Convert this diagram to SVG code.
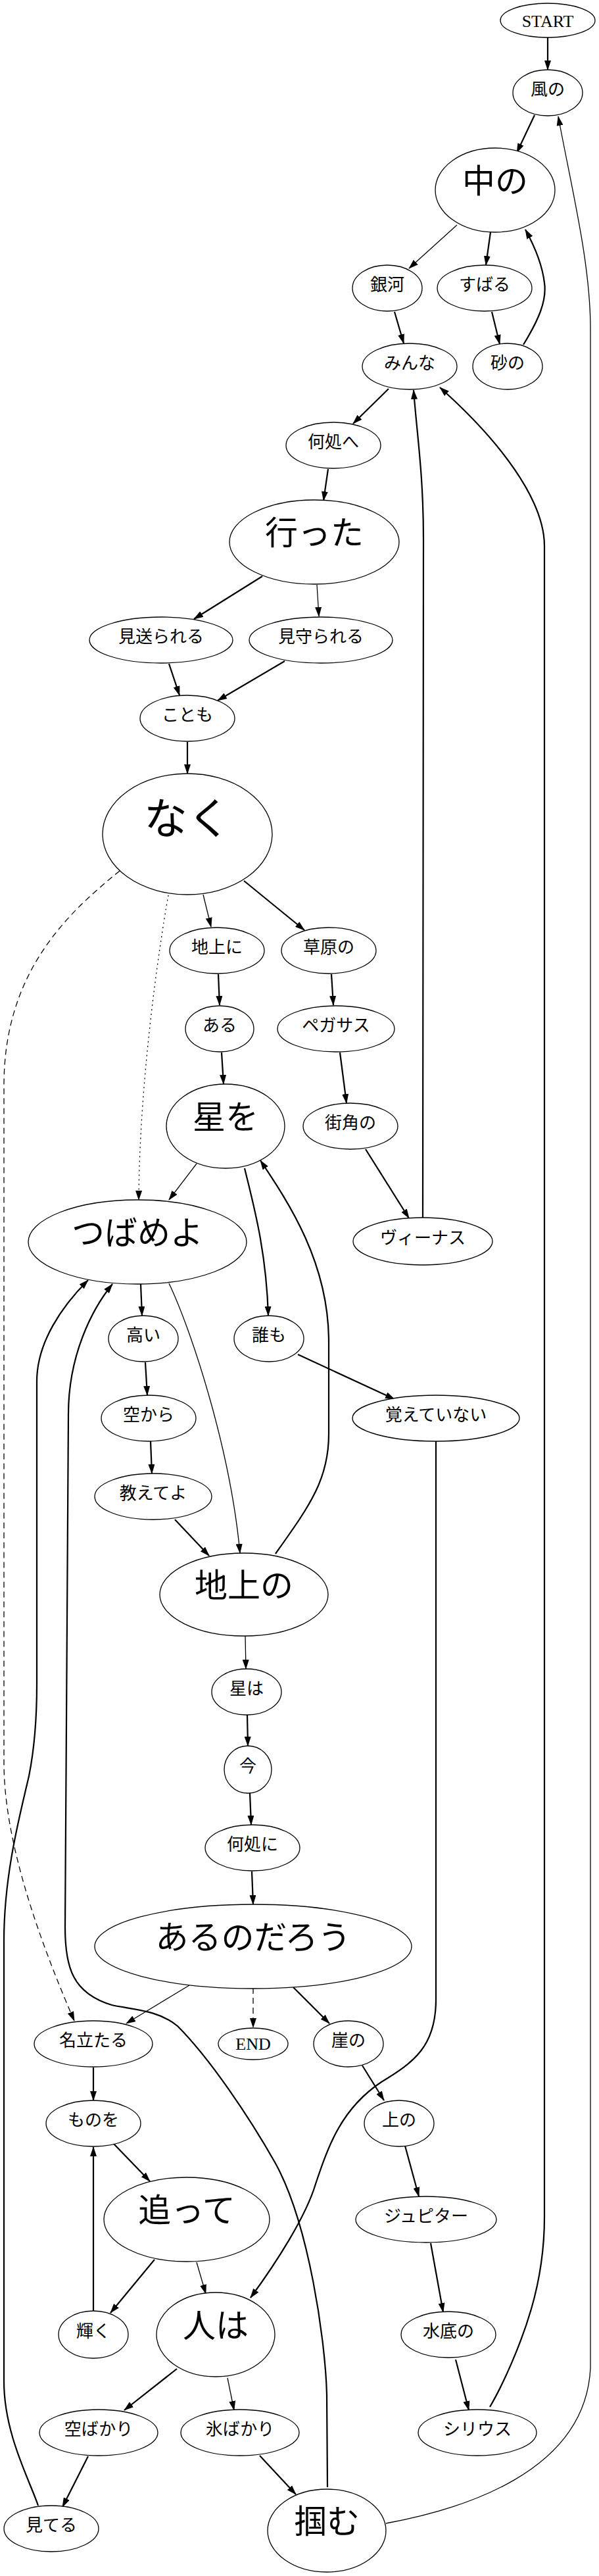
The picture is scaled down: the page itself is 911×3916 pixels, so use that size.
<svg xmlns="http://www.w3.org/2000/svg" width="911" height="3916" viewBox="0 0 911 3916">
<style>
.n ellipse{fill:#fff;stroke:#000;stroke-width:1.3}
text{font-family:"Liberation Serif","Noto Sans CJK JP",serif;text-anchor:middle;fill:#000}
.s{font-size:26px}
.b{font-size:50px}
.h{font-size:66px}
#edges path{fill:none;stroke:#000;marker-end:url(#a)}
#edges .t{stroke-width:2.2}
#edges .w{stroke-width:1.3}
#edges .d{stroke-width:1.3;stroke-dasharray:9 6}
#edges .o{stroke-width:1.3;stroke-dasharray:2 5}
</style>
<defs>
<marker id="a" viewBox="0 0 15 10" markerWidth="15" markerHeight="10" refX="14" refY="5" orient="auto" markerUnits="userSpaceOnUse">
<path d="M0,0 L15,5 L0,10 z" fill="#000"/>
</marker>
</defs>
<rect width="911" height="3916" fill="#fff"/>
<g id="edges">
<path class="t" d="M833,57 L833,106"/>
<path class="t" d="M813,175 L786,232"/>
<path class="t" d="M746,353 L739,403"/>
<path class="t" d="M748,474 L760,523"/>
<path class="t" d="M796,524 C818,488 832,458 828,430 C825,405 815,378 799,349"/>
<path class="t" d="M600,474 L614,522"/>
<path class="t" d="M591,591 L537,644"/>
<path class="t" d="M643,1851 L644,820 C644,720 634,660 629,593"/>
<path class="t" d="M745,3659 C765,3625 792,3565 808,3510 C824,3455 828,3410 828,3370 L828,830 C828,760 760,670 669,589"/>
<path class="t" d="M499,713 L492,761"/>
<path class="t" d="M399,876 L295,941"/>
<path class="t" d="M257,1009 L273,1057"/>
<path class="t" d="M433,1005 L331,1065"/>
<path class="t" d="M285,1128 L285,1176"/>
<path class="t" d="M371,1339 L463,1414"/>
<path class="t" d="M332,1481 L334,1528"/>
<path class="t" d="M504,1481 L507,1528"/>
<path class="t" d="M337,1600 L340,1648"/>
<path class="t" d="M517,1600 L527,1677"/>
<path class="t" d="M556,1747 L622,1852"/>
<path class="t" d="M372,1776 C385,1830 405,1900 408,2000"/>
<path class="t" d="M419,2362 C470,2290 500,2250 500,2180 L500,2040 C500,1920 440,1830 396,1764"/>
<path class="t" d="M214,1952 L216,2000"/>
<path class="t" d="M221,2071 L224,2121"/>
<path class="t" d="M229,2191 L231,2240"/>
<path class="t" d="M266,2310 L318,2365"/>
<path class="t" d="M453,2059 L600,2127"/>
<path class="t" d="M663,2191 L663,3040 C663,3110 630,3135 580,3165 C520,3205 500,3260 480,3320 C465,3370 420,3440 381,3493"/>
<path class="t" d="M376,2607 L377,2654"/>
<path class="t" d="M380,2726 L382,2774"/>
<path class="t" d="M383,2845 L385,2895"/>
<path class="t" d="M446,3021 L501,3076"/>
<path class="t" d="M551,3140 L584,3193"/>
<path class="t" d="M142,3143 L142,3193"/>
<path class="t" d="M173,3259 L228,3316"/>
<path class="t" d="M616,3262 L637,3339"/>
<path class="t" d="M235,3435 L168,3516"/>
<path class="t" d="M142,3513 L142,3264"/>
<path class="t" d="M655,3410 L674,3515"/>
<path class="t" d="M693,3587 L713,3664"/>
<path class="t" d="M269,3601 L189,3664"/>
<path class="t" d="M134,3734 L95,3811"/>
<path class="t" d="M395,3733 L450,3792"/>
<path class="t" d="M58,3809 C45,3770 6,3700 6,3620 L6,2950 C6,2850 30,2760 44,2700 C52,2660 56,2620 56,2560 L56,2100 C56,2040 95,1985 134,1946"/>
<path class="t" d="M498,3781 L497,3640 C495,3560 470,3380 418,3287 C380,3220 320,3130 270,3080 C240,3055 200,3055 170,3048 C110,3030 99,2990 99,2930 L104,2150 C104,2060 140,1990 171,1952"/>
<path class="w" d="M695,342 L622,408"/>
<path class="w" d="M482,889 L485,937"/>
<path class="w" d="M309,1360 L321,1409"/>
<path class="w" d="M299,1769 L257,1824"/>
<path class="w" d="M257,1951 C290,2020 350,2200 365,2361"/>
<path class="w" d="M373,2487 L374,2537"/>
<path class="w" d="M288,3018 L192,3076"/>
<path class="w" d="M299,3439 L313,3487"/>
<path class="w" d="M346,3615 L356,3664"/>
<path class="w" d="M587,3836 C700,3815 890,3760 898,3600 L898,500 C898,400 870,290 849,177"/>
<path class="d" d="M182,1324 C100,1390 6,1480 6,1650 L6,2680 C6,2800 60,2950 113,3072"/>
<path class="d" d="M385,3022 L385,3082"/>
<path class="o" d="M256,1361 C240,1450 212,1650 211,1824"/>
</g>
<g id="n_start" class="n"><ellipse cx="833" cy="31" rx="72" ry="26"/><text class="s" x="833" y="41">START</text></g>
<g id="n_kaze" class="n"><ellipse cx="833" cy="141" rx="53" ry="35"/><text class="s" x="833" y="145">風の</text></g>
<g id="n_naka" class="n"><ellipse cx="753" cy="289" rx="91" ry="64"/><text class="b" x="753" y="293">中の</text></g>
<g id="n_ginga" class="n"><ellipse cx="589" cy="438" rx="53" ry="35"/><text class="s" x="589" y="442">銀河</text></g>
<g id="n_subaru" class="n"><ellipse cx="737" cy="438" rx="72" ry="35"/><text class="s" x="737" y="442">すばる</text></g>
<g id="n_minna" class="n"><ellipse cx="623" cy="557" rx="72" ry="35"/><text class="s" x="623" y="561">みんな</text></g>
<g id="n_suna" class="n"><ellipse cx="772" cy="557" rx="53" ry="35"/><text class="s" x="772" y="561">砂の</text></g>
<g id="n_dokohe" class="n"><ellipse cx="507" cy="677" rx="72" ry="35"/><text class="s" x="507" y="681">何処へ</text></g>
<g id="n_itta" class="n"><ellipse cx="478" cy="824" rx="129" ry="64"/><text class="b" x="478" y="828">行った</text></g>
<g id="n_miokura" class="n"><ellipse cx="245" cy="973" rx="109" ry="35"/><text class="s" x="245" y="977">見送られる</text></g>
<g id="n_mimamo" class="n"><ellipse cx="488" cy="973" rx="109" ry="35"/><text class="s" x="488" y="977">見守られる</text></g>
<g id="n_kotomo" class="n"><ellipse cx="285" cy="1092" rx="72" ry="35"/><text class="s" x="285" y="1096">ことも</text></g>
<g id="n_naku" class="n"><ellipse cx="285" cy="1268" rx="129" ry="92"/><text class="h" x="285" y="1268">なく</text></g>
<g id="n_chijoni" class="n"><ellipse cx="330" cy="1445" rx="72" ry="35"/><text class="s" x="330" y="1449">地上に</text></g>
<g id="n_sougen" class="n"><ellipse cx="500" cy="1445" rx="72" ry="35"/><text class="s" x="500" y="1449">草原の</text></g>
<g id="n_aru" class="n"><ellipse cx="334" cy="1564" rx="52" ry="35"/><text class="s" x="334" y="1568">ある</text></g>
<g id="n_pegasus" class="n"><ellipse cx="511" cy="1564" rx="89" ry="35"/><text class="s" x="511" y="1568">ペガサス</text></g>
<g id="n_hoshiwo" class="n"><ellipse cx="343" cy="1712" rx="90" ry="64"/><text class="b" x="343" y="1716">星を</text></g>
<g id="n_machikado" class="n"><ellipse cx="533" cy="1712" rx="72" ry="35"/><text class="s" x="533" y="1716">街角の</text></g>
<g id="n_tsubame" class="n"><ellipse cx="209" cy="1888" rx="166" ry="64"/><text class="b" x="209" y="1892">つばめよ</text></g>
<g id="n_venus" class="n"><ellipse cx="643" cy="1887" rx="106" ry="36"/><text class="s" x="643" y="1891">ヴィーナス</text></g>
<g id="n_takai" class="n"><ellipse cx="218" cy="2035" rx="53" ry="35"/><text class="s" x="218" y="2039">高い</text></g>
<g id="n_daremo" class="n"><ellipse cx="409" cy="2035" rx="53" ry="35"/><text class="s" x="409" y="2039">誰も</text></g>
<g id="n_sorakara" class="n"><ellipse cx="226" cy="2156" rx="72" ry="35"/><text class="s" x="226" y="2160">空から</text></g>
<g id="n_oboete" class="n"><ellipse cx="663" cy="2156" rx="127" ry="35"/><text class="s" x="663" y="2160">覚えていない</text></g>
<g id="n_oshiete" class="n"><ellipse cx="233" cy="2275" rx="89" ry="35"/><text class="s" x="233" y="2279">教えてよ</text></g>
<g id="n_chijouno" class="n"><ellipse cx="371" cy="2424" rx="128" ry="63"/><text class="b" x="371" y="2428">地上の</text></g>
<g id="n_hoshiwa" class="n"><ellipse cx="375" cy="2572" rx="53" ry="35"/><text class="s" x="375" y="2576">星は</text></g>
<g id="n_ima" class="n"><ellipse cx="377" cy="2690" rx="36" ry="36"/><text class="s" x="377" y="2694">今</text></g>
<g id="n_dokoni" class="n"><ellipse cx="384" cy="2809" rx="72" ry="35"/><text class="s" x="384" y="2813">何処に</text></g>
<g id="n_arunoda" class="n"><ellipse cx="385" cy="2959" rx="241" ry="64"/><text class="b" x="385" y="2963">あるのだろう</text></g>
<g id="n_nadataru" class="n"><ellipse cx="142" cy="3107" rx="90" ry="35"/><text class="s" x="142" y="3111">名立たる</text></g>
<g id="n_end" class="n"><ellipse cx="385" cy="3107" rx="53" ry="24"/><text class="s" x="385" y="3116">END</text></g>
<g id="n_gake" class="n"><ellipse cx="530" cy="3107" rx="53" ry="35"/><text class="s" x="530" y="3111">崖の</text></g>
<g id="n_monowo" class="n"><ellipse cx="142" cy="3228" rx="72" ry="35"/><text class="s" x="142" y="3232">ものを</text></g>
<g id="n_ueno" class="n"><ellipse cx="607" cy="3228" rx="53" ry="35"/><text class="s" x="607" y="3232">上の</text></g>
<g id="n_otte" class="n"><ellipse cx="284" cy="3374" rx="126" ry="64"/><text class="b" x="284" y="3378">追って</text></g>
<g id="n_jupiter" class="n"><ellipse cx="648" cy="3374" rx="107" ry="35"/><text class="s" x="648" y="3378">ジュピター</text></g>
<g id="n_kagayaku" class="n"><ellipse cx="142" cy="3549" rx="53" ry="36"/><text class="s" x="142" y="3553">輝く</text></g>
<g id="n_hitowa" class="n"><ellipse cx="328" cy="3549" rx="90" ry="64"/><text class="b" x="328" y="3553">人は</text></g>
<g id="n_minasoko" class="n"><ellipse cx="682" cy="3549" rx="72" ry="35"/><text class="s" x="682" y="3553">水底の</text></g>
<g id="n_sorabakari" class="n"><ellipse cx="150" cy="3698" rx="90" ry="35"/><text class="s" x="150" y="3702">空ばかり</text></g>
<g id="n_koori" class="n"><ellipse cx="365" cy="3698" rx="90" ry="35"/><text class="s" x="365" y="3702">氷ばかり</text></g>
<g id="n_sirius" class="n"><ellipse cx="726" cy="3698" rx="90" ry="35"/><text class="s" x="726" y="3702">シリウス</text></g>
<g id="n_miteru" class="n"><ellipse cx="78" cy="3844" rx="72" ry="35"/><text class="s" x="78" y="3848">見てる</text></g>
<g id="n_tsukamu" class="n"><ellipse cx="497" cy="3847" rx="90" ry="63"/><text class="b" x="497" y="3851">掴む</text></g>
</svg>
